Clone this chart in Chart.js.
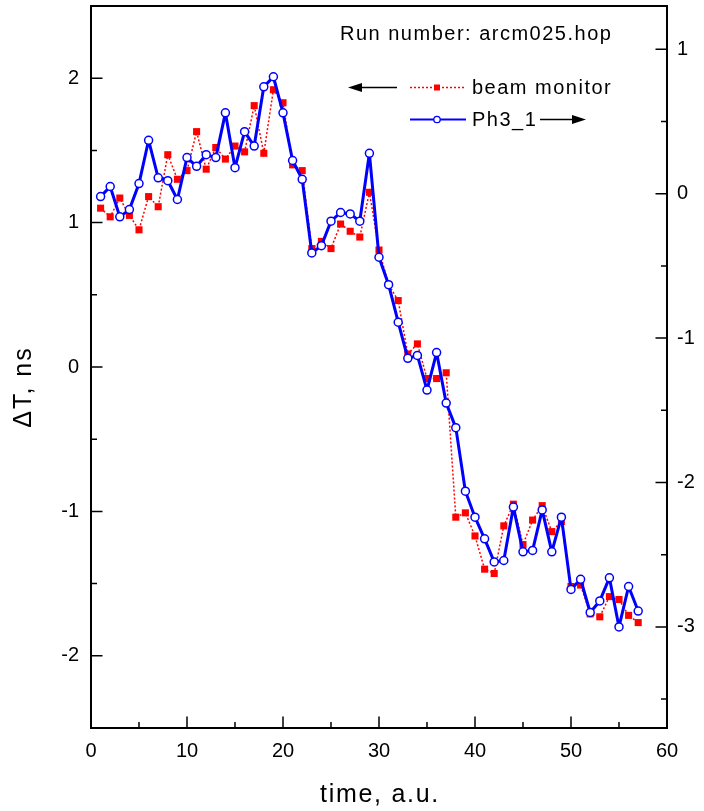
<!DOCTYPE html>
<html>
<head>
<meta charset="utf-8">
<script src="https://cdn.jsdelivr.net/npm/chart.js@4/dist/chart.umd.min.js"></script>
<style>
  body { margin: 0; background: #fff; }
  canvas { display: block; }
</style>
</head>
<body>
<canvas id="chart" width="704" height="811"></canvas>
<script>
// time axis, a.u.
const time = [1, 2, 3, 4, 5, 6, 7, 8, 9, 10, 11, 12, 13, 14, 15, 16, 17, 18, 19, 20,
  21, 22, 23, 24, 25, 26, 27, 28, 29, 30, 31, 32, 33, 34, 35, 36, 37, 38, 39, 40,
  41, 42, 43, 44, 45, 46, 47, 48, 49, 50, 51, 52, 53, 54, 55, 56, 57];

// beam monitor, left axis (ns)
const beamMonitor = [1.10, 1.04, 1.17, 1.05, 0.95, 1.18, 1.11, 1.47, 1.30, 1.36,
  1.63, 1.37, 1.52, 1.44, 1.53, 1.49, 1.81, 1.48, 1.92, 1.83,
  1.40, 1.36, 0.82, 0.87, 0.82, 0.99, 0.94, 0.90, 1.21, 0.81,
  0.57, 0.46, 0.09, 0.16, -0.08, -0.08, -0.04, -1.04, -1.01, -1.17,
  -1.40, -1.43, -1.10, -0.95, -1.23, -1.06, -0.96, -1.14, -1.07, -1.52,
  -1.51, -1.71, -1.73, -1.59, -1.61, -1.72, -1.77];

// Ph3_1, right axis
const ph3 = [-0.02, 0.05, -0.16, -0.11, 0.07, 0.37, 0.11, 0.09, -0.04, 0.25,
  0.19, 0.27, 0.25, 0.56, 0.18, 0.43, 0.33, 0.74, 0.81, 0.56,
  0.23, 0.10, -0.41, -0.36, -0.19, -0.13, -0.14, -0.19, 0.28, -0.44,
  -0.63, -0.89, -1.14, -1.12, -1.36, -1.10, -1.45, -1.62, -2.06, -2.24,
  -2.39, -2.55, -2.54, -2.17, -2.48, -2.47, -2.19, -2.48, -2.24, -2.74,
  -2.67, -2.90, -2.82, -2.66, -3.00, -2.72, -2.89];

// tick labels
const xTicks = [0, 10, 20, 30, 40, 50, 60];
const xMinor = [5, 15, 25, 35, 45, 55];
const leftTicks = [-2, -1, 0, 1, 2];
const leftMinor = [-1.5, -0.5, 0.5, 1.5];
const rightTicks = [-3, -2, -1, 0, 1];
const rightMinor = [-3.5, -2.5, -1.5, -0.5, 0.5];

const FONT = "'Liberation Sans', Arial, sans-serif";

function pts(ys) {
    return time.map((t, i) => ({ x: t, y: ys[i] }));
}

function drawArrow(ctx, x1, x2, y) {
    // shaft from x1 to x2, head at x2
    const dir = x2 > x1 ? 1 : -1;
    ctx.beginPath();
    ctx.moveTo(x1, y);
    ctx.lineTo(x2 - dir * 10, y);
    ctx.lineWidth = 1.5;
    ctx.strokeStyle = '#000';
    ctx.stroke();
    ctx.beginPath();
    ctx.moveTo(x2, y);
    ctx.lineTo(x2 - dir * 14, y - 4.5);
    ctx.lineTo(x2 - dir * 14, y + 4.5);
    ctx.closePath();
    ctx.fillStyle = '#000';
    ctx.fill();
}

// frame, inward ticks, axis titles and the legend box
const decorations = {
    id: 'decorations',
    afterDraw(chart) {
        const ctx = chart.ctx;
        const a = chart.chartArea;
        const sx = chart.scales.x, sl = chart.scales.y, sr = chart.scales.y2;
        ctx.save();
        ctx.strokeStyle = '#000';
        ctx.lineWidth = 2;
        ctx.strokeRect(a.left, a.top, a.right - a.left, a.bottom - a.top);

        ctx.lineWidth = 1.5;
        ctx.beginPath();
        const tick = (x1, y1, x2, y2) => { ctx.moveTo(x1, y1); ctx.lineTo(x2, y2); };
        xTicks.forEach(v => { const p = sx.getPixelForValue(v); tick(p, a.bottom, p, a.bottom - 11.5); });
        xMinor.forEach(v => { const p = sx.getPixelForValue(v); tick(p, a.bottom, p, a.bottom - 6); });
        leftTicks.forEach(v => { const p = sl.getPixelForValue(v); tick(a.left, p, a.left + 11.5, p); });
        leftMinor.forEach(v => { const p = sl.getPixelForValue(v); tick(a.left, p, a.left + 6, p); });
        rightTicks.forEach(v => { const p = sr.getPixelForValue(v); tick(a.right, p, a.right - 11.5, p); });
        rightMinor.forEach(v => { const p = sr.getPixelForValue(v); tick(a.right, p, a.right - 6, p); });
        ctx.stroke();

        ctx.fillStyle = '#000';
        ctx.textBaseline = 'middle';

        // axis titles
        ctx.font = '25px ' + FONT;
        ctx.letterSpacing = '1.7px';
        ctx.textAlign = 'center';
        ctx.fillText('time, a.u.', (a.left + a.right) / 2 + 1, 795);

        ctx.save();
        ctx.translate(24, 387);
        ctx.rotate(-Math.PI / 2);
        ctx.font = '25px ' + FONT;
        ctx.letterSpacing = '2px';
        ctx.fillText('\u0394T, ns', 0, 0);
        ctx.restore();

        // run label and legend
        ctx.font = '20px ' + FONT;
        ctx.letterSpacing = '1.5px';
        ctx.textAlign = 'left';
        ctx.fillText('Run number: arcm025.hop', 340, 34);
        ctx.fillText('beam monitor', 472, 88);
        ctx.fillText('Ph3_1', 472, 120);
        ctx.letterSpacing = '0px';

        drawArrow(ctx, 397, 348, 87.5);
        drawArrow(ctx, 540, 586, 119.5);

        ctx.beginPath();
        ctx.setLineDash([2, 2]);
        ctx.strokeStyle = '#ff0000';
        ctx.lineWidth = 1.5;
        ctx.moveTo(410, 87.5);
        ctx.lineTo(466, 87.5);
        ctx.stroke();
        ctx.setLineDash([]);
        ctx.fillStyle = '#ff0000';
        ctx.fillRect(434, 84.5, 6, 6);

        ctx.beginPath();
        ctx.strokeStyle = '#0000ff';
        ctx.lineWidth = 2;
        ctx.moveTo(410, 119.5);
        ctx.lineTo(466, 119.5);
        ctx.stroke();
        ctx.beginPath();
        ctx.arc(437, 119.5, 3.2, 0, Math.PI * 2);
        ctx.fillStyle = '#fff';
        ctx.fill();
        ctx.lineWidth = 1.3;
        ctx.stroke();
        ctx.restore();
    }
};

const tickFont = { family: FONT, size: 20 };

// keep the plot box fixed: no extra room for overhanging tick labels
const noPad = s => { s.paddingTop = 0; s.paddingBottom = 0; s.paddingLeft = 0; s.paddingRight = 0; };

new Chart(document.getElementById('chart').getContext('2d'), {
    type: 'line',
    data: {
        datasets: [{
            label: 'Ph3_1',
            data: pts(ph3),
            yAxisID: 'y2',
            order: 0,
            borderColor: '#0000ff',
            borderWidth: 3,
            borderJoinStyle: 'round',
            pointStyle: 'circle',
            pointRadius: 4,
            pointBackgroundColor: '#ffffff',
            pointBorderColor: '#0000ff',
            pointBorderWidth: 1.5,
            tension: 0
        }, {
            label: 'beam monitor',
            data: pts(beamMonitor),
            yAxisID: 'y',
            order: 1,
            borderColor: '#ff0000',
            borderWidth: 1.5,
            borderDash: [2, 2],
            pointStyle: 'rect',
            pointRadius: 5,
            pointBackgroundColor: '#ff0000',
            pointBorderWidth: 0,
            tension: 0
        }]
    },
    options: {
        responsive: false,
        animation: false,
        layout: { padding: { top: 6, left: 0, right: 0, bottom: 0 } },
        plugins: { legend: { display: false }, tooltip: { enabled: false } },
        scales: {
            x: {
                type: 'linear',
                min: 0,
                max: 60,
                afterBuildTicks: s => { s.ticks = xTicks.map(v => ({ value: v })); },
                afterFit: s => { s.height = 83; noPad(s); },
                grid: { display: false, drawTicks: false },
                border: { display: false },
                ticks: { color: '#000', font: tickFont, padding: 11, maxRotation: 0 }
            },
            y: {
                position: 'left',
                min: -2.5,
                max: 2.5,
                afterBuildTicks: s => { s.ticks = leftTicks.map(v => ({ value: v })); },
                afterFit: s => { s.width = 91; noPad(s); },
                grid: { display: false, drawTicks: false },
                border: { display: false },
                ticks: { color: '#000', font: tickFont, padding: 12 }
            },
            y2: {
                position: 'right',
                min: -3.7,
                max: 1.3,
                afterBuildTicks: s => { s.ticks = rightTicks.map(v => ({ value: v })); },
                afterFit: s => { s.width = 37; noPad(s); },
                grid: { display: false, drawTicks: false },
                border: { display: false },
                ticks: { color: '#000', font: tickFont, padding: 10 }
            }
        }
    },
    plugins: [decorations]
});
</script>
</body>
</html>
